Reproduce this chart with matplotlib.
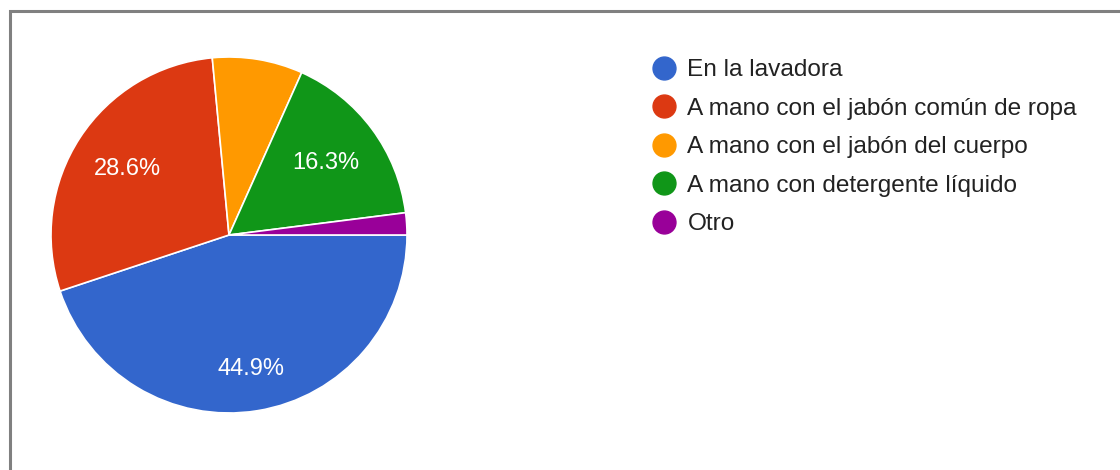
import matplotlib.pyplot as plt
from matplotlib.lines import Line2D
from matplotlib.patches import Rectangle

plt.rcParams['font.family'] = ['Liberation Sans', 'DejaVu Sans']

labels = ['En la lavadora', 'A mano con el jabón común de ropa',
          'A mano con el jabón del cuerpo', 'A mano con detergente líquido', 'Otro']
values = [44.9, 28.6, 8.2, 16.3, 2.0]
colors = ['#3366CC', '#DC3912', '#FF9900', '#109618', '#990099']

W, H = 1120, 470
fig = plt.figure(figsize=(W / 100, H / 100), dpi=100)

# gray frame round the chart (runs off right and bottom edges)
fig.add_artist(Rectangle((9.5 / W, -0.1), 1.2, (H - 11.5) / H + 0.1,
                         transform=fig.transFigure, fill=False,
                         edgecolor='#808080', linewidth=2.2))

# pie axes: center (229, 235), radius 178 px
cx, cy, r = 229, 235, 178
ax = fig.add_axes([(cx - r) / W, (H - cy - r) / H, 2 * r / W, 2 * r / H])


def pct(p):
    return '%.1f%%' % p if p >= 10 else ''


wedges, texts, autotexts = ax.pie(values, colors=colors, startangle=0,
                                  counterclock=False, autopct=pct,
                                  pctdistance=0.68, radius=1,
                                  wedgeprops=dict(edgecolor='white', linewidth=1.2),
                                  textprops=dict(color='white', fontsize=17))
# blue label sits a little further out
x, y = autotexts[0].get_position()
autotexts[0].set_position((x * 1.12, y * 1.12))
ax.set_xlim(-1, 1)
ax.set_ylim(-1, 1)
ax.axis('off')

handles = [Line2D([], [], linestyle='none', marker='o', markersize=16.5,
                  markerfacecolor=c, markeredgecolor=c) for c in colors]
fig.legend(handles, labels, loc='upper left',
           bbox_to_anchor=(652 / W, (H - 59) / H), frameon=False,
           fontsize=17.6, labelcolor='#222222', handlelength=1.0,
           handletextpad=0.45, labelspacing=0.67, borderaxespad=0,
           borderpad=0)

fig.savefig('out.png', dpi=100)
